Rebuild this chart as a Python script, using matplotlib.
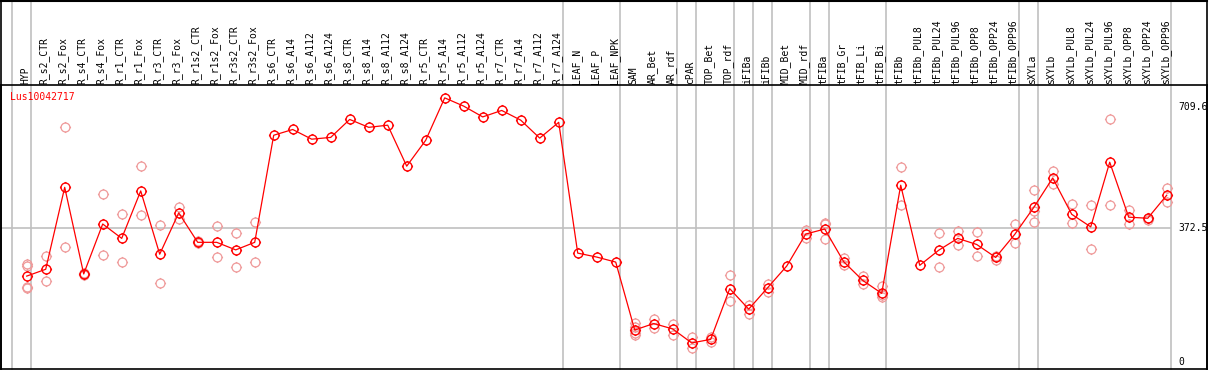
import matplotlib
matplotlib.use('Agg')
import matplotlib.pyplot as plt
import numpy as np
from matplotlib.path import Path
from matplotlib.lines import Line2D

# sample names, in plotting order
labels = ['HYP', 'R_s2_CTR', 'R_s2_Fox', 'R_s4_CTR', 'R_s4_Fox', 'R_r1_CTR', 'R_r1_Fox',
          'R_r3_CTR', 'R_r3_Fox', 'R_r1s2_CTR', 'R_r1s2_Fox', 'R_r3s2_CTR', 'R_r3s2_Fox',
          'R_s6_CTR', 'R_s6_A14', 'R_s6_A112', 'R_s6_A124', 'R_s8_CTR', 'R_s8_A14',
          'R_s8_A112', 'R_s8_A124', 'R_r5_CTR', 'R_r5_A14', 'R_r5_A112', 'R_r5_A124',
          'R_r7_CTR', 'R_r7_A14', 'R_r7_A112', 'R_r7_A124', 'LEAF_N', 'LEAF_P', 'LEAF_NPK',
          'SAM', 'AR_Bet', 'AR_rdf', 'cPAR', 'TOP_Bet', 'TOP_rdf', 'iFIBa', 'iFIBb',
          'MID_Bet', 'MID_rdf', 'tFIBa', 'tFIB_Gr', 'tFIB_Li', 'tFIB_Bi', 'tFIBb',
          'tFIBb_PUL8', 'tFIBb_PUL24', 'tFIBb_PUL96', 'tFIBb_OPP8', 'tFIBb_OPP24',
          'tFIBb_OPP96', 'sXYLa', 'sXYLb', 'sXYLb_PUL8', 'sXYLb_PUL24', 'sXYLb_PUL96',
          'sXYLb_OPP8', 'sXYLb_OPP24', 'sXYLb_OPP96']

# mean expression
means = [239, 258, 486, 245, 384, 344, 476, 300, 415, 333, 333, 312, 333,
         631, 647, 620, 625, 675, 653, 659, 545, 617, 735, 712, 682, 700, 673, 623, 667,
         303, 292, 278, 89, 107, 92, 53, 63, 204, 147, 207,
         267, 356, 370, 279, 227, 191, 492, 269, 311, 344, 327, 291, 355,
         430, 512, 411, 376, 556, 403, 400, 464]

# replicates
reps = [[273, 267, 210, 205], [295, 225], [654, 319], [243, 247], [467, 297], [411, 277],
        [545, 409], [380, 219], [432, 397], [330, 336], [378, 291], [358, 264], [389, 277],
        [], [], [], [], [], [], [], [], [], [], [], [], [], [], [], [],
        [], [], [], [108, 98, 80, 75], [120, 95], [107, 75], [70, 40], [70, 57], [241, 169],
        [159, 133], [217, 194],
        [], [367, 344], [386, 383, 341], [289, 270], [239, 218], [211, 180, 186], [542, 438],
        [], [358, 264], [364, 326], [361, 294], [296, 285], [384, 330],
        [478, 421, 389], [531, 494], [439, 386], [438, 314], [675, 438], [423, 385],
        [401, 395], [484, 445]]

# last sample of each group (separator drawn right after it)
group_ends = [-1, 0, 28, 31, 34, 35, 37, 38, 39, 41, 42, 45, 52, 53, 60]

gene = 'Lus10042717'
ytick_vals = [0, 372.5, 709.6]

# circle with four small ticks
circ = Path.unit_circle()
tk = Path([(0, 1), (0, 1.25), (0, -1), (0, -1.25), (1, 0), (1.25, 0), (-1, 0), (-1.25, 0)],
          [Path.MOVETO, Path.LINETO] * 4)
gear = Path.make_compound_path(circ, tk)

W, H = 1209, 370
fig = plt.figure(figsize=(W / 100, H / 100), dpi=100, facecolor='white')
# plot area: px x 1..1207, y 85..369
ax = fig.add_axes([1 / W, (H - 369) / H, 1206 / W, 284 / H])
x = np.arange(len(labels))
ax.set_xlim(-1.353, 62.12)
ax.set_ylim(-19.5, 770.8)
ax.set_xticks([])
ax.set_yticks([])
for s in ax.spines.values():
    s.set_linewidth(1.2)

mono = dict(family='DejaVu Sans Mono', size=7)

# separators
for g in group_ends:
    ax.axvline(g + 0.21, ymin=0, ymax=369 / 284, color='#c0c0c0', lw=1.2, clip_on=False, zorder=1)
ax.hlines(372.5, -1.353, 60.21, color='#c0c0c0', lw=1.2, zorder=1)

# replicates
for i, r in enumerate(reps):
    if r:
        ax.plot([i] * len(r), r, ls='none', marker=gear, ms=8, mfc='none',
                mec='#ef9a9a', mew=0.9, zorder=2)

ax.plot(x, means, color='red', lw=0.9, marker=gear, ms=8, mfc='none',
        mec='red', mew=1.0, zorder=3)

# sample labels in header
for i, lab in enumerate(labels):
    ax.text(i - 0.08, 1.0 + 1.5 / 284, lab, transform=ax.get_xaxis_transform(), rotation=90,
            ha='center', va='bottom', color='black', clip_on=False, **mono)

ax.text(9.3 / 1206, 1 - 11.7 / 284, gene, transform=ax.transAxes, color='red',
        ha='left', va='center', **mono)

for v in ytick_vals:
    ax.text(60.6, v, '%g' % v, ha='left', va='center', color='black',
            clip_on=True, **mono)

# top border of header
fig.add_artist(Line2D([1 / W, 1207 / W], [1 - 0.6 / H, 1 - 0.6 / H],
                      transform=fig.transFigure, color='black', lw=1.5))
fig.add_artist(Line2D([1 / W, 1 / W], [(H - 369) / H, 1], transform=fig.transFigure,
                      color='black', lw=1.2))
fig.add_artist(Line2D([1207 / W, 1207 / W], [(H - 369) / H, 1], transform=fig.transFigure,
                      color='black', lw=1.2))

fig.savefig('out.png', dpi=100, facecolor='white')
